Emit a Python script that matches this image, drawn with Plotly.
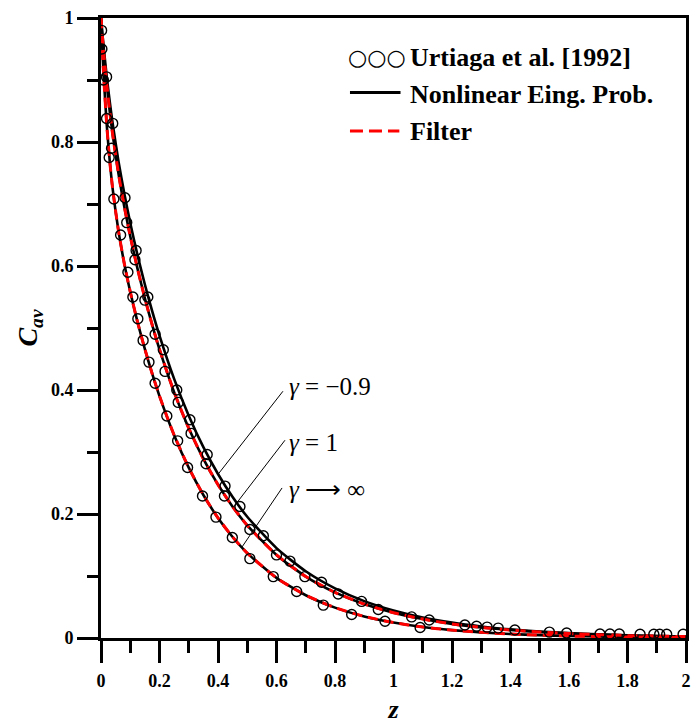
import plotly.graph_objects as go

# ---- data ----
z_grid = [0, 0.005, 0.01, 0.02, 0.03, 0.04, 0.06, 0.08, 0.1, 0.125, 0.15, 0.175, 0.2,
          0.25, 0.3, 0.35, 0.4, 0.45, 0.5, 0.6, 0.7, 0.8, 0.9, 1.0, 1.1, 1.2, 1.3,
          1.4, 1.5, 1.6, 1.7, 1.8, 1.9, 2.0]

# Nonlinear eigenvalue problem, gamma = -0.9
nl_gamma_m09 = [1.0, 0.9733, 0.9485, 0.9038, 0.8645, 0.8294, 0.7683, 0.716, 0.6694, 0.6171,
                0.5701, 0.5271, 0.4877, 0.4179, 0.3586, 0.3078, 0.2645, 0.2273, 0.1955,
                0.145, 0.1076, 0.08, 0.0595, 0.0444, 0.0331, 0.0248, 0.0186, 0.0139,
                0.0103, 0.0078, 0.0058, 0.0043, 0.0032, 0.0024]
# Nonlinear eigenvalue problem, gamma = 1
nl_gamma_1 = [1.0, 0.9689, 0.9407, 0.8911, 0.8487, 0.8116, 0.7483, 0.6949, 0.6478, 0.5953,
              0.5479, 0.5049, 0.4655, 0.3965, 0.3383, 0.289, 0.2473, 0.2118, 0.1816,
              0.134, 0.0991, 0.0736, 0.0547, 0.0408, 0.0305, 0.0227, 0.017, 0.0128,
              0.0096, 0.0071, 0.0054, 0.004, 0.003, 0.0023]
# Nonlinear eigenvalue problem, gamma -> infinity
nl_gamma_inf = [1.0, 0.9455, 0.8992, 0.8251, 0.7687, 0.7241, 0.6558, 0.603, 0.5584, 0.5095,
                0.4659, 0.4263, 0.3902, 0.3272, 0.2747, 0.2306, 0.1937, 0.1629, 0.137,
                0.097, 0.069, 0.049, 0.0348, 0.0249, 0.0177, 0.0127, 0.0091, 0.0064,
                0.0046, 0.0032, 0.0023, 0.0017, 0.0012, 0.0009]

# Filter solution (coincides with the nonlinear curves)
filter_gamma_1 = [1.0, 0.9689, 0.9407, 0.8911, 0.8487, 0.8116, 0.7483, 0.6949, 0.6478, 0.5953,
                  0.5479, 0.5049, 0.4655, 0.3965, 0.3383, 0.289, 0.2473, 0.2118, 0.1816,
                  0.134, 0.0991, 0.0736, 0.0547, 0.0408, 0.0305, 0.0227, 0.017, 0.0128,
                  0.0096, 0.0071, 0.0054, 0.004, 0.003, 0.0023]
filter_gamma_inf = [1.0, 0.9455, 0.8992, 0.8251, 0.7687, 0.7241, 0.6558, 0.603, 0.5584, 0.5095,
                    0.4659, 0.4263, 0.3902, 0.3272, 0.2747, 0.2306, 0.1937, 0.1629, 0.137,
                    0.097, 0.069, 0.049, 0.0348, 0.0249, 0.0177, 0.0127, 0.0091, 0.0064,
                    0.0046, 0.0032, 0.0023, 0.0017, 0.0012, 0.0009]

# Urtiaga et al. [1992] experimental points
exp_m09_z = [0.002, 0.019, 0.04, 0.082, 0.12, 0.16, 0.213, 0.259, 0.304, 0.363, 0.424,
             0.475, 0.555, 0.646, 0.754, 0.891, 1.062, 1.122, 1.244, 1.284, 1.32, 1.358,
             1.415, 1.533, 1.592, 1.706, 1.74, 1.772, 1.843, 1.89, 1.91, 1.934, 1.99]
exp_m09_c = [0.98, 0.905, 0.83, 0.71, 0.625, 0.55, 0.465, 0.40, 0.352, 0.296, 0.245,
             0.212, 0.165, 0.124, 0.09, 0.059, 0.034, 0.029, 0.021, 0.019, 0.0175, 0.016,
             0.013, 0.0095, 0.008, 0.0065, 0.0065, 0.0065, 0.006, 0.006, 0.006, 0.006, 0.006]

exp_1_z = [0.008, 0.036, 0.088, 0.116, 0.15, 0.185, 0.219, 0.264, 0.308, 0.359, 0.422,
           0.509, 0.6, 0.697, 0.811, 0.948]
exp_1_c = [0.90, 0.79, 0.67, 0.61, 0.545, 0.49, 0.43, 0.38, 0.33, 0.281, 0.229,
           0.175, 0.134, 0.099, 0.071, 0.046]

exp_inf_z = [0.003, 0.019, 0.028, 0.044, 0.067, 0.092, 0.109, 0.126, 0.144, 0.164, 0.185,
             0.225, 0.262, 0.296, 0.347, 0.393, 0.449, 0.509, 0.589, 0.669, 0.76, 0.857,
             0.971, 1.091]
exp_inf_c = [0.95, 0.838, 0.775, 0.708, 0.65, 0.59, 0.55, 0.515, 0.48, 0.445, 0.411,
             0.358, 0.318, 0.275, 0.229, 0.195, 0.162, 0.128, 0.099, 0.075, 0.053, 0.038,
             0.027, 0.017]

x_ticks = [0, 0.2, 0.4, 0.6, 0.8, 1, 1.2, 1.4, 1.6, 1.8, 2]
y_ticks = [0, 0.2, 0.4, 0.6, 0.8, 1]

SERIF = "Liberation Serif, Times New Roman, serif"

fig = go.Figure()

for ys in (nl_gamma_m09, nl_gamma_1, nl_gamma_inf):
    fig.add_trace(go.Scatter(x=z_grid, y=ys, mode="lines",
                             line=dict(color="black", width=2.6, shape="spline", smoothing=0.6),
                             hoverinfo="skip"))
for ys in (filter_gamma_1, filter_gamma_inf):
    fig.add_trace(go.Scatter(x=z_grid, y=ys, mode="lines",
                             line=dict(color="#ff0000", width=3, dash="10px,6px",
                                       shape="spline", smoothing=0.6),
                             hoverinfo="skip"))
for zs, cs in ((exp_m09_z, exp_m09_c), (exp_1_z, exp_1_c), (exp_inf_z, exp_inf_c)):
    fig.add_trace(go.Scatter(x=zs, y=cs, mode="markers",
                             marker=dict(symbol="circle-open", size=10, color="black",
                                         line=dict(width=1.4, color="black")),
                             cliponaxis=True, hoverinfo="skip"))

axis_common = dict(showgrid=False, zeroline=False, showline=True, linecolor="black",
                   linewidth=2.6, mirror=True, ticks="outside", tickwidth=2.6,
                   tickcolor="black", automargin=False,
                   tickfont=dict(family=SERIF, size=18, color="black", weight="bold"))

fig.update_xaxes(range=[0, 2], tickvals=x_ticks, ticklen=22, ticklabelstandoff=3,
                 minor=dict(dtick=0.1, ticklen=12, tickwidth=2.6, ticks="outside",
                            tickcolor="black"),
                 title=dict(text="<b><i>z</i></b>", font=dict(family=SERIF, size=26, color="black"),
                            standoff=12),
                 **axis_common)
fig.update_yaxes(range=[0, 1], tickvals=y_ticks, ticklen=21,
                 minor=dict(dtick=0.1, ticklen=11, tickwidth=2.6, ticks="outside",
                            tickcolor="black"),
                 title=dict(text="<b><i>C<sub>av</sub></i></b>",
                            font=dict(family=SERIF, size=28, color="black"), standoff=6),
                 **axis_common)

# custom legend
leg_font = dict(family=SERIF, size=26, color="black", weight="bold")
fig.add_annotation(xref="paper", yref="paper", x=0.418, y=0.937, xanchor="left",
                   yanchor="middle", showarrow=False, text="○○○",
                   font=dict(family="DejaVu Sans", size=22, color="black"))
fig.add_annotation(xref="paper", yref="paper", x=0.525, y=0.937, xanchor="left",
                   yanchor="middle", showarrow=False, text="Urtiaga et al. [1992]", font=leg_font)
fig.add_annotation(xref="paper", yref="paper", x=0.525, y=0.877, xanchor="left",
                   yanchor="middle", showarrow=False, text="Nonlinear Eing. Prob.", font=leg_font)
fig.add_annotation(xref="paper", yref="paper", x=0.525, y=0.817, xanchor="left",
                   yanchor="middle", showarrow=False, text="Filter", font=leg_font)
fig.add_shape(type="line", xref="paper", yref="paper", x0=0.4256, x1=0.512, y0=0.880, y1=0.880,
              line=dict(color="black", width=3))
fig.add_shape(type="line", xref="paper", yref="paper", x0=0.4256, x1=0.510, y0=0.8177, y1=0.8177,
              line=dict(color="#ff0000", width=3, dash="13px,6px"))

# gamma labels with leader lines
g_font = dict(family=SERIF, size=25, color="black")
labels = [("<i>γ</i> = −0.9", 0.318, 0.406, 0.622, 0.398, 0.401, 0.2645),
          ("<i>γ</i> = 1", 0.318, 0.316, 0.629, 0.319, 0.452, 0.2105),
          ("<i>γ</i> ⟶ ∞", 0.318, 0.239, 0.619, 0.242, 0.481, 0.146)]
for txt, px, py, x0, y0, x1, y1 in labels:
    fig.add_annotation(xref="paper", yref="paper", x=px, y=py, xanchor="left", yanchor="middle",
                       showarrow=False, text=txt, font=g_font)
    fig.add_shape(type="line", xref="x", yref="y", x0=x0, y0=y0, x1=x1, y1=y1,
                  line=dict(color="black", width=1))

fig.update_layout(width=691, height=724, margin=dict(l=101, r=5, t=18, b=86),
                  plot_bgcolor="white", paper_bgcolor="white", showlegend=False)

fig.write_html("out.html", config={"displayModeBar": False},
               post_script="document.body.style.margin='0';document.body.style.overflow='hidden';")
